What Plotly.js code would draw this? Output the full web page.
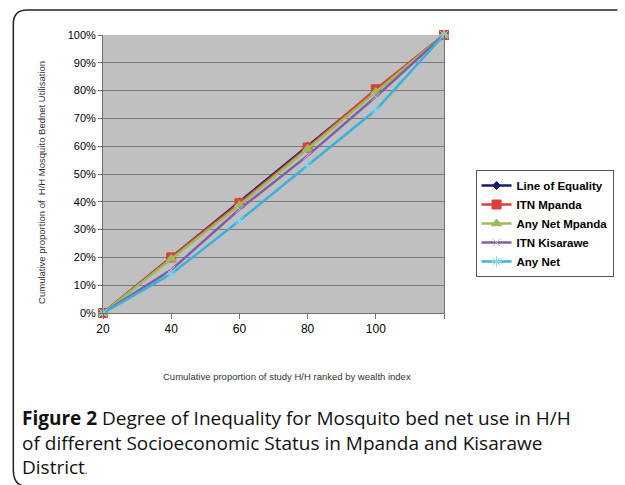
<!DOCTYPE html>
<html>
<head>
<meta charset="utf-8">
<script src="https://cdn.plot.ly/plotly-3.0.1.min.js"></script>
<style>
html,body{margin:0;padding:0;background:#fff;}
#chart{width:625px;height:485px;}
</style>
</head>
<body>
<div id="chart"></div>
<script>
// Data
var xValues = [20, 40, 60, 80, 100, 120];
var xTickLabels = ['20', '40', '60', '80', '100', ''];
var seriesNames = ['Line of Equality', 'ITN Mpanda', 'Any Net Mpanda', 'ITN Kisarawe', 'Any Net'];
var lineOfEquality = [0, 20, 40, 60, 80, 100];
var itnMpanda = [0, 20, 39.5, 59.5, 80.5, 100];
var anyNetMpanda = [0, 19.5, 38.8, 59, 79.5, 100];
var itnKisarawe = [0, 15.5, 37.3, 56.6, 77.8, 100];
var anyNet = [0, 14, 33.2, 53, 73, 100];
var yTickValues = [0, 10, 20, 30, 40, 50, 60, 70, 80, 90, 100];
var yTickLabels = ['0%', '10%', '20%', '30%', '40%', '50%', '60%', '70%', '80%', '90%', '100%'];

var W = 625, H = 485;
var L = 103, R = 449, T = 35, B = 313;
function px(x){ return (x - L) / (R - L); }
function py(y){ return (B - y) / (B - T); }

function tr(name, y, color, symbol, msize, mcolor, mline){
  return {
    x: xValues, y: y, name: name, type: 'scatter', mode: 'lines+markers',
    line: {color: color, width: 2.5},
    marker: {symbol: symbol, size: msize, color: mcolor, line: {color: mline || mcolor, width: 1}},
    cliponaxis: false
  };
}

var data = [
  tr(seriesNames[0], lineOfEquality, '#1a1a6e', 'diamond', 6, '#1a1a6e'),
  tr(seriesNames[1], itnMpanda, '#d9403a', 'square', 9, '#d9403a'),
  tr(seriesNames[2], anyNetMpanda, '#9bbb59', 'triangle-up', 9, '#9bbb59'),
  tr(seriesNames[3], itnKisarawe, '#7f5fa8', 'x-thin-open', 8, '#c8b8e0', '#c8b8e0'),
  tr(seriesNames[4], anyNet, '#37b3db', 'asterisk-open', 9, '#8fd3ee', '#8fd3ee')
];

var frame = 'M ' + px(625) + ',' + py(10) +
  ' L ' + px(26) + ',' + py(10) +
  ' Q ' + px(12) + ',' + py(10) + ' ' + px(12) + ',' + py(24) +
  ' L ' + px(12) + ',' + py(470) +
  ' Q ' + px(12) + ',' + py(484) + ' ' + px(22) + ',' + py(486);

var capFont = {family: 'Open Sans, Noto Sans, sans-serif', size: 19, color: '#111111'};

var layout = {
  width: W, height: H,
  margin: {l: L, r: W - R, t: T, b: H - B, pad: 0},
  paper_bgcolor: '#ffffff',
  plot_bgcolor: '#c0c0c0',
  font: {family: 'Arial, Liberation Sans, sans-serif', size: 11, color: '#000'},
  showlegend: true,
  legend: {
    x: px(481), y: py(170), xanchor: 'left', yanchor: 'top',
    bgcolor: '#ffffff', bordercolor: '#555', borderwidth: 1,
    font: {family: 'Arial, Liberation Sans, sans-serif', size: 11.5, color: '#000', weight: 'bold'},
    itemwidth: 30, tracegroupgap: 0
  },
  xaxis: {
    type: 'linear', range: [20, 120], tickvals: xValues, ticktext: xTickLabels,
    showgrid: false, zeroline: false,
    showline: true, linecolor: '#707070', linewidth: 1,
    ticks: 'outside', ticklen: 5, tickcolor: '#707070',
    tickfont: {family: 'Arial, Liberation Sans, sans-serif', size: 12, color: '#000'},
    fixedrange: true
  },
  yaxis: {
    range: [0, 100], tickvals: yTickValues, ticktext: yTickLabels,
    showgrid: true, gridcolor: '#7a7a7a', gridwidth: 1,
    zeroline: false,
    showline: true, linecolor: '#707070', linewidth: 1, mirror: true,
    ticks: 'outside', ticklen: 4, tickcolor: '#707070',
    tickfont: {family: 'Arial, Liberation Sans, sans-serif', size: 11, color: '#000'},
    fixedrange: true
  },
  shapes: [
    {type: 'path', xref: 'paper', yref: 'paper', path: frame, line: {color: '#222', width: 1.5}}
  ],
  annotations: [
    {xref: 'paper', yref: 'paper', x: px(290), y: py(376), xanchor: 'center', yanchor: 'middle', showarrow: false,
     text: 'Cumulative proportion of study H/H ranked by wealth index',
     font: {family: 'Arial, Liberation Sans, sans-serif', size: 9.5, color: '#333'}},
    {xref: 'paper', yref: 'paper', x: px(40), y: py(182), xanchor: 'center', yanchor: 'middle', showarrow: false, textangle: -90,
     text: 'Cumulative proportion of  H/H Mosquito Bednet Utilisation',
     font: {family: 'Arial, Liberation Sans, sans-serif', size: 9.5, color: '#333'}},
    {xref: 'paper', yref: 'paper', x: px(19), y: py(442), xanchor: 'left', yanchor: 'middle', align: 'left', showarrow: false,
     text: '<b>Figure 2</b> Degree of Inequality for Mosquito bed net use in H/H<br>' +
           'of different Socioeconomic Status in Mpanda and Kisarawe<br>' +
           'District<span style="font-size:10px">.</span>',
     font: capFont}
  ]
};

Plotly.newPlot('chart', data, layout, {displayModeBar: false, staticPlot: true});
</script>
</body>
</html>
